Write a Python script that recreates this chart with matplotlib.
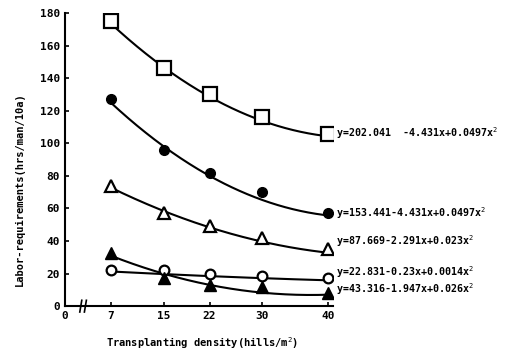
import numpy as np
import matplotlib
matplotlib.use('Agg')
import matplotlib.pyplot as plt
from matplotlib import transforms

plt.rcParams['font.family'] = 'DejaVu Sans Mono'
plt.rcParams['mathtext.fontset'] = 'custom'
plt.rcParams['mathtext.rm'] = 'DejaVu Sans Mono'
plt.rcParams['mathtext.it'] = 'DejaVu Sans Mono'

# transplanting density (hills/m2)
density = [7, 15, 22, 30, 40]

# labor requirements (hrs/man/10a), one series per treatment
square_vals = [175, 146, 130, 116, 106]
dot_vals = [127, 96, 82, 70, 57]
tri_vals = [74, 57, 49, 42, 35]
ring_vals = [22, 22, 19.5, 18.5, 17]
filled_tri_vals = [32.5, 17, 13, 12, 8]

# quadratic fits: y = a + b*x + c*x^2
square_fit = [202.041, -4.431, 0.0497]
dot_fit = [153.441, -4.431, 0.0497]
tri_fit = [87.669, -2.291, 0.023]
ring_fit = [22.831, -0.23, 0.0014]
filled_tri_fit = [43.316, -1.947, 0.026]

square_eq = 'y=202.041  -4.431x+0.0497x$^2$'
dot_eq = 'y=153.441-4.431x+0.0497x$^2$'
tri_eq = 'y=87.669-2.291x+0.023x$^2$'
ring_eq = 'y=22.831-0.23x+0.0014x$^2$'
filled_tri_eq = 'y=43.316-1.947x+0.026x$^2$'

x_ticks = [0, 7, 15, 22, 30, 40]
y_ticks = list(range(0, 181, 20))

fig = plt.figure(figsize=(5.1, 3.56), dpi=100)
ax = fig.add_axes([0.1275, 0.14, 0.5255, 0.8235])

xs = np.linspace(density[0], density[-1], 200)

series = [
    (square_vals, square_fit, square_eq, dict(marker='s', ms=9.5, mfc='white', mew=1.6), 0),
    (dot_vals, dot_fit, dot_eq, dict(marker='o', ms=7, mfc='black', mew=1.0), 0),
    (tri_vals, tri_fit, tri_eq, dict(marker='^', ms=9, mfc='white', mew=1.6), 6),
    (ring_vals, ring_fit, ring_eq, dict(marker='o', ms=7, mfc='white', mew=1.6), 4.8),
    (filled_tri_vals, filled_tri_fit, filled_tri_eq, dict(marker='^', ms=9, mfc='black', mew=1.0), 2.8),
]

for vals, fit, eq, mstyle, dy in series:
    a, b, c = fit
    ax.plot(xs, a + b * xs + c * xs ** 2, color='black', lw=1.5, zorder=2)
    ax.plot(density, vals, ls='none', mec='black', zorder=3, **mstyle)
    ax.annotate(eq, xy=(density[-1], vals[-1]), xytext=(6, dy),
                textcoords='offset points', va='center', ha='left',
                fontsize=7.2, fontweight='bold', annotation_clip=False)

ax.set_xlim(0, 40.8)
ax.set_ylim(0, 180)
ax.set_xticks(x_ticks)
ax.set_yticks(y_ticks)
ax.tick_params(direction='in', length=3, width=1.2, labelsize=8)
for lab in ax.get_xticklabels() + ax.get_yticklabels():
    lab.set_fontweight('bold')

for side in ['top', 'right']:
    ax.spines[side].set_visible(False)
for side in ['left', 'bottom']:
    ax.spines[side].set_linewidth(1.5)

# axis break marks between 0 and 7
trans = transforms.blended_transform_factory(ax.transData, ax.transAxes)
for bx in [2.4, 3.1]:
    ax.plot([bx - 0.15, bx + 0.15], [-0.02, 0.02], color='black', lw=1.2,
            transform=trans, clip_on=False)

ax.set_xlabel('Transplanting density(hills/m$^2$)', fontsize=7.5, fontweight='bold')
ax.set_ylabel('Labor-requirements(hrs/man/10a)', fontsize=7.5, fontweight='bold')
ax.xaxis.set_label_coords(0.51, -0.1)
ax.yaxis.set_label_coords(-0.15, 0.4)

fig.savefig('out.png', dpi=100)
